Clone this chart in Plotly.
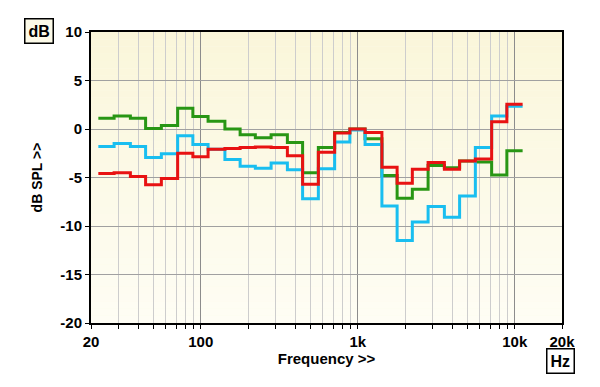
import math
import plotly.graph_objects as go

# 1/3-octave band centre frequencies (Hz)
bands = [25, 31.5, 40, 50, 63, 80, 100, 125, 160, 200, 250, 315, 400, 500, 630,
         800, 1000, 1250, 1600, 2000, 2500, 3150, 4000, 5000, 6300, 8000, 10000]

green = [1.1, 1.35, 1.1, 0.05, 0.35, 2.15, 1.3, 0.8, 0.0, -0.6, -0.9, -0.6, -1.4,
         -4.5, -1.9, -0.35, 0.0, -1.0, -4.8, -7.15, -6.2, -3.75, -4.0, -3.3, -3.4,
         -4.75, -2.25]
cyan = [-1.8, -1.5, -1.8, -2.95, -2.55, -0.7, -1.6, -2.1, -3.15, -3.85, -4.05, -3.5,
        -4.2, -7.2, -4.1, -1.35, -0.1, -1.6, -7.95, -11.5, -9.6, -8.0, -9.1, -6.9,
        -1.9, 1.35, 2.35]
red = [-4.6, -4.5, -4.9, -5.75, -5.1, -2.5, -2.85, -2.1, -2.0, -1.9, -1.85, -1.9,
       -2.75, -5.7, -2.4, -0.4, 0.0, -0.35, -3.95, -5.6, -4.15, -3.45, -4.15, -3.3,
       -3.1, 0.75, 2.55]

x_major_vals = [20, 100, 1000, 10000, 20000]
x_major_text = ["20", "100", "1k", "10k", "20k"]
x_minor_vals = [30, 40, 50, 60, 70, 80, 90, 200, 300, 400, 500, 600, 700, 800, 900,
                2000, 3000, 4000, 5000, 6000, 7000, 8000, 9000]
y_vals = [-20, -15, -10, -5, 0, 5, 10]
y_text = ["-20", "-15", "-10", "-5", "0", "5", "10"]

# band edges (1/3 octave)
half = 2 ** (1 / 6)
edges = [f / half for f in bands] + [bands[-1] * half]

fig = go.Figure()
for vals, col in [(green, "rgb(40,150,20)"), (cyan, "rgb(25,190,240)"), (red, "rgb(232,18,18)")]:
    fig.add_trace(go.Scatter(
        x=edges, y=vals + [vals[-1]], mode="lines", line_shape="hv",
        line=dict(color=col, width=3), showlegend=False, hoverinfo="skip"))

# background gradient (cream at top to near white at bottom)
n = 40
c_top = (250, 246, 218)
c_bot = (254, 253, 244)
shapes = []
for i in range(n):
    t = i / (n - 1)
    c = tuple(round(c_top[k] + (c_bot[k] - c_top[k]) * t) for k in range(3))
    shapes.append(dict(type="rect", xref="x domain", yref="y domain",
                       x0=0, x1=1, y0=1 - (i + 1) / n, y1=1 - i / n,
                       fillcolor="rgb(%d,%d,%d)" % c, line=dict(width=0), layer="below"))

FAM = "Liberation Sans, Arial, sans-serif"
font_b = dict(family=FAM, size=15, color="black", weight="bold")

fig.update_layout(
    width=600, height=387,
    margin=dict(l=91, r=38, t=32, b=64),
    paper_bgcolor="white",
    plot_bgcolor="rgb(252,250,232)",
    shapes=shapes,
    font=font_b,
    xaxis=dict(
        type="log", range=[math.log10(20), math.log10(20000)],
        tickmode="array", tickvals=x_major_vals, ticktext=x_major_text,
        showgrid=True, gridcolor="rgb(140,140,140)", gridwidth=1,
        ticks="outside", ticklen=4, tickcolor="black", tickwidth=1,
        minor=dict(tickmode="array", tickvals=x_minor_vals, showgrid=True,
                   gridcolor="rgb(205,205,205)", gridwidth=1,
                   ticks="outside", ticklen=4, tickcolor="black"),
        showline=True, linecolor="black", linewidth=2, mirror=True,
        tickfont=dict(family=FAM, size=15, weight="bold"),
        title=dict(text="Frequency >>", standoff=4,
                   font=dict(family=FAM, size=15, weight="bold")),
        zeroline=False,
    ),
    yaxis=dict(
        range=[-20, 10], tickmode="array", tickvals=y_vals, ticktext=y_text,
        showgrid=True, gridcolor="rgb(160,160,160)", gridwidth=1,
        ticks="outside", ticklen=4, tickcolor="black",
        showline=True, linecolor="black", linewidth=2, mirror=True,
        tickfont=dict(family=FAM, size=15, weight="bold"),
        title=dict(text="dB SPL >>", standoff=14,
                   font=dict(family=FAM, size=14, weight="bold")),
        zeroline=False,
    ),
    annotations=[
        dict(text="dB", xref="paper", yref="paper", x=-0.11, y=1.003,
             xanchor="center", yanchor="middle", showarrow=False,
             bgcolor="rgb(252,250,232)", bordercolor="black", borderwidth=1.5,
             borderpad=3, font=dict(size=16, weight="bold", family=FAM)),
        dict(text="Hz", xref="paper", yref="paper", x=0.996, y=-0.131,
             xanchor="center", yanchor="middle", showarrow=False,
             bgcolor="white", bordercolor="black", borderwidth=1.5,
             borderpad=3, font=dict(size=16, weight="bold", family=FAM)),
    ],
)

fig.write_html("out.html")
